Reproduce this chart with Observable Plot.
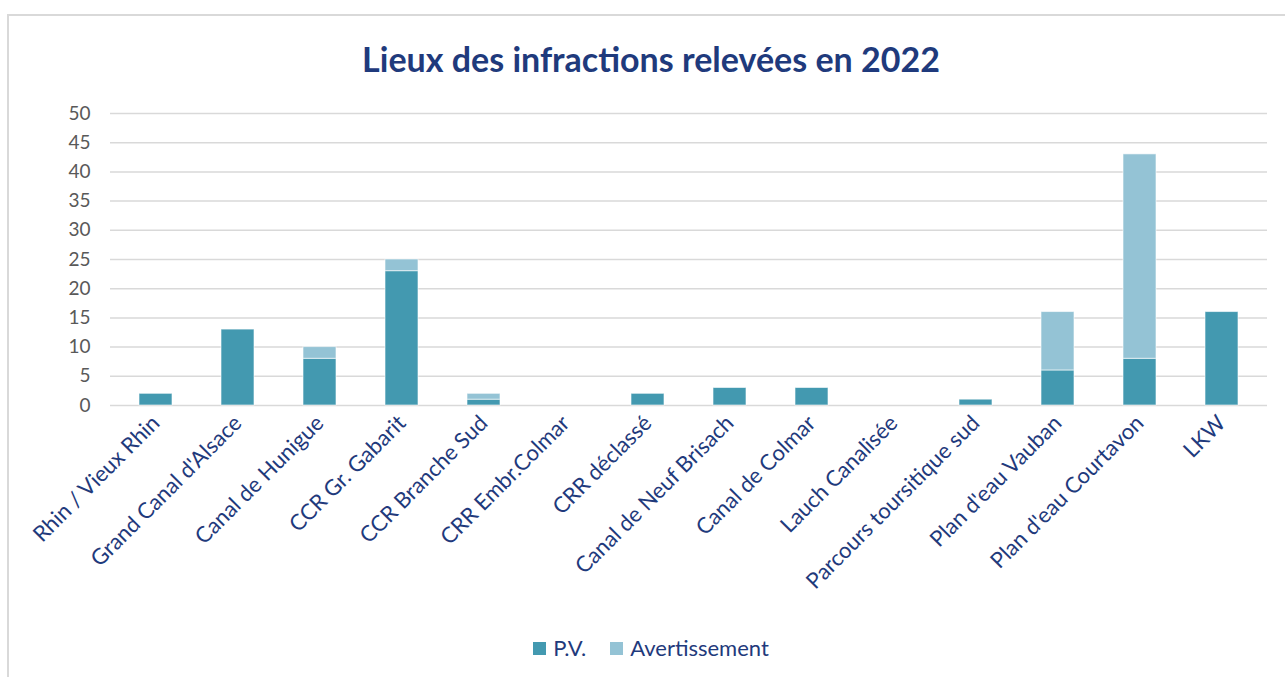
<!DOCTYPE html>
<html>
<head>
<meta charset="utf-8">
<script src="https://cdn.jsdelivr.net/npm/d3@7"></script>
<script src="https://cdn.jsdelivr.net/npm/@observablehq/plot@0.6"></script>
<style>
  body { margin: 0; background: #fff; font-family: Lato, "Open Sans", sans-serif; }
  #wrap { position: relative; width: 1285px; height: 677px; overflow: hidden; }
  #frame { position: absolute; left: 7px; top: 14px; width: 1300px; height: 700px; border: 2px solid #d9d9d9; box-sizing: border-box; }
  #title { position: absolute; left: 0; width: 1302px; top: 38px; text-align: center; font-family: Lato, sans-serif; font-weight: bold; font-size: 34px; color: #1f3a7c; }
  #chart { position: absolute; left: 0; top: 90px; }
  #legend { position: absolute; left: 0; width: 1302px; top: 634px; text-align: center; font-family: Lato, sans-serif; font-size: 22px; color: #1f3a7c; }
  .sw { display: inline-block; width: 13px; height: 13px; margin-right: 7px; vertical-align: 1px; }
  .item { display: inline-block; margin: 0 12px; }
</style>
</head>
<body>
<div id="wrap">
  <div id="frame"></div>
  <div id="title">Lieux des infractions relevées en 2022</div>
  <div id="chart"></div>
  <div id="legend"></div>
</div>
<script>
const categories = [
  "Rhin / Vieux Rhin", "Grand Canal d'Alsace", "Canal de Hunigue", "CCR Gr. Gabarit",
  "CCR Branche Sud", "CRR Embr.Colmar", "CRR déclassé", "Canal de Neuf Brisach",
  "Canal de Colmar", "Lauch Canalisée", "Parcours toursitique sud", "Plan d'eau Vauban",
  "Plan d'eau Courtavon", "LKW"
];
const pv = [2, 13, 8, 23, 1, 0, 2, 3, 3, 0, 1, 6, 8, 16];
const avertissement = [0, 0, 2, 2, 1, 0, 0, 0, 0, 0, 0, 10, 35, 0];
const seriesNames = ["P.V.", "Avertissement"];
const seriesColors = ["#4399b0", "#94c3d5"];
const yTicks = [0, 5, 10, 15, 20, 25, 30, 35, 40, 45, 50];

const data = [];
categories.forEach((c, i) => {
  data.push({cat: c, series: seriesNames[0], value: pv[i]});
  data.push({cat: c, series: seriesNames[1], value: avertissement[i]});
});

const navy = "#1f3a7c";
const chart = Plot.plot({
  width: 1285,
  height: 540,
  marginTop: 23,
  marginBottom: 225,
  marginLeft: 110,
  marginRight: 18,
  style: { fontFamily: "Lato, sans-serif", background: "transparent" },
  x: { domain: categories, paddingInner: 0.6, paddingOuter: 0.3, label: null },
  y: { domain: [0, 50], label: null },
  color: { domain: seriesNames, range: seriesColors },
  marks: [
    Plot.gridY(yTicks, { stroke: "#d9d9d9", strokeOpacity: 1, strokeWidth: 1.5 }),
    Plot.barY(data, Plot.stackY({
      x: "cat", y: "value", fill: "series", order: seriesNames,
      stroke: "white", strokeOpacity: 0.6, strokeWidth: 1
    })),
    Plot.axisY(yTicks, {
      tickSize: 0, tickPadding: 20, fontSize: 19, fill: "#595959", label: null
    }),
    Plot.axisX({
      tickSize: 0, tickRotate: -45, tickPadding: 14, fontSize: 22, fill: navy, label: null
    })
  ]
});
document.getElementById("chart").appendChild(chart);

const legend = document.getElementById("legend");
seriesNames.forEach((n, i) => {
  const s = document.createElement("span");
  s.className = "item";
  s.innerHTML = `<span class="sw" style="background:${seriesColors[i]}"></span>${n}`;
  legend.appendChild(s);
});
</script>
</body>
</html>
